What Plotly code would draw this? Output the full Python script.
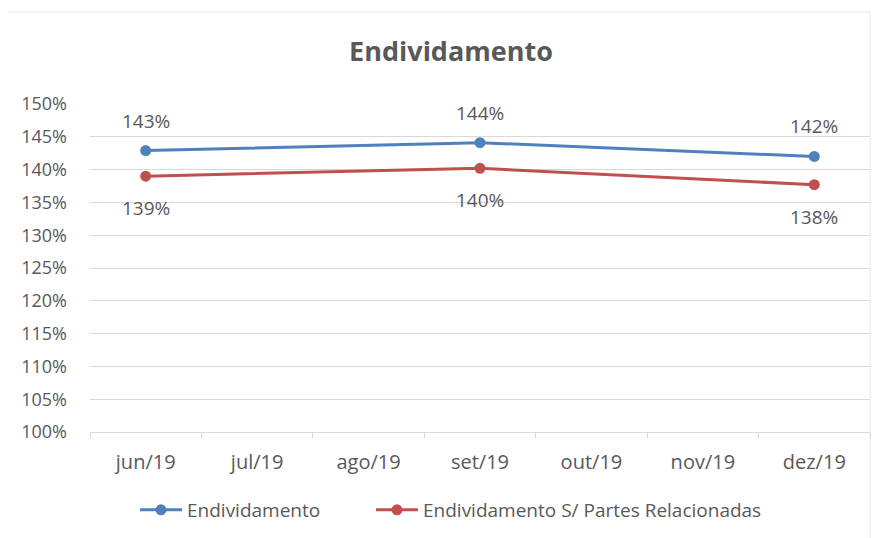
import plotly.graph_objects as go

categories = ["jun/19", "jul/19", "ago/19", "set/19", "out/19", "nov/19", "dez/19"]
endividamento = [1.429, None, None, 1.441, None, None, 1.420]
endividamento_spr = [1.390, None, None, 1.402, None, None, 1.377]
series_names = ["Endividamento", "Endividamento S/ Partes Relacionadas"]
y_ticks = [1.00, 1.05, 1.10, 1.15, 1.20, 1.25, 1.30, 1.35, 1.40, 1.45, 1.50]

FONT = "'Open Sans', 'Noto Sans', sans-serif"
GREY = "#595959"
BLUE = "#4F81BD"
RED = "#C0504D"

# page offset (body margin) compensation: plot area 82..862 x 96..424 in figure px
L, R, T, B = 82, 18, 96, 114
PW, PH = 880 - L - R, 538 - T - B

fig = go.Figure()
fig.add_trace(go.Scatter(x=categories, y=endividamento, name=series_names[0],
                         mode="lines+markers", connectgaps=True, legend="legend",
                         line=dict(color=BLUE, width=3),
                         marker=dict(color=BLUE, size=11)))
fig.add_trace(go.Scatter(x=categories, y=endividamento_spr, name=series_names[1],
                         mode="lines+markers", connectgaps=True, legend="legend2",
                         line=dict(color=RED, width=3),
                         marker=dict(color=RED, size=11)))

for cat, v in zip(categories, endividamento):
    if v is not None:
        fig.add_annotation(x=cat, y=v, text=f"{round(v*100):.0f}%", showarrow=False,
                           yshift=30, font=dict(family=FONT, size=19, color=GREY))
for cat, v in zip(categories, endividamento_spr):
    if v is not None:
        fig.add_annotation(x=cat, y=v, text=f"{round(v*100):.0f}%", showarrow=False,
                           yshift=-32, font=dict(family=FONT, size=19, color=GREY))

# faint chart-area frame (top and right edges)
fig.add_shape(type="line", xref="paper", yref="paper",
              x0=-L/PW, x1=1.0, y0=(PH + T - 4)/PH, y1=(PH + T - 4)/PH,
              line=dict(color="#e8e8e8", width=1), layer="below")
fig.add_shape(type="line", xref="paper", yref="paper",
              x0=1.0, x1=1.0, y0=-B/PH, y1=(PH + T - 4)/PH,
              line=dict(color="#e8e8e8", width=1), layer="below")

legend_common = dict(orientation="h", xanchor="left", y=(424 - 502)/PH, yanchor="middle",
                     itemwidth=42, font=dict(family=FONT, size=19, color=GREY),
                     bgcolor="rgba(0,0,0,0)")

fig.update_layout(
    width=880, height=538,
    margin=dict(l=L, r=R, t=T, b=B, autoexpand=False),
    paper_bgcolor="white", plot_bgcolor="white",
    font=dict(family=FONT, size=19, color=GREY),
    title=dict(text="<b>Endividamento</b>", x=443/880, xref="container", xanchor="center",
               y=1 - 44/538, yref="container", yanchor="middle",
               font=dict(family=FONT, size=27, color=GREY)),
    showlegend=True,
    legend=dict(x=(127 - L)/PW, **legend_common),
    legend2=dict(x=(363 - L)/PW, **legend_common),
    xaxis=dict(type="category", range=[-0.5, 6.5], showgrid=False, showline=True,
               linecolor="#d9d9d9", ticks="outside", tickson="boundaries", ticklen=5,
               tickcolor="#d9d9d9",
               tickfont=dict(family=FONT, size=20, color=GREY), ticklabelstandoff=12),
    yaxis=dict(range=[1.0, 1.5], tickvals=y_ticks, tickformat=".0%", showgrid=True,
               gridcolor="#d9d9d9", showline=False, zeroline=False,
               tickfont=dict(family=FONT, size=18, color=GREY), ticklabelstandoff=22),
)

fig.write_html("out.html")
